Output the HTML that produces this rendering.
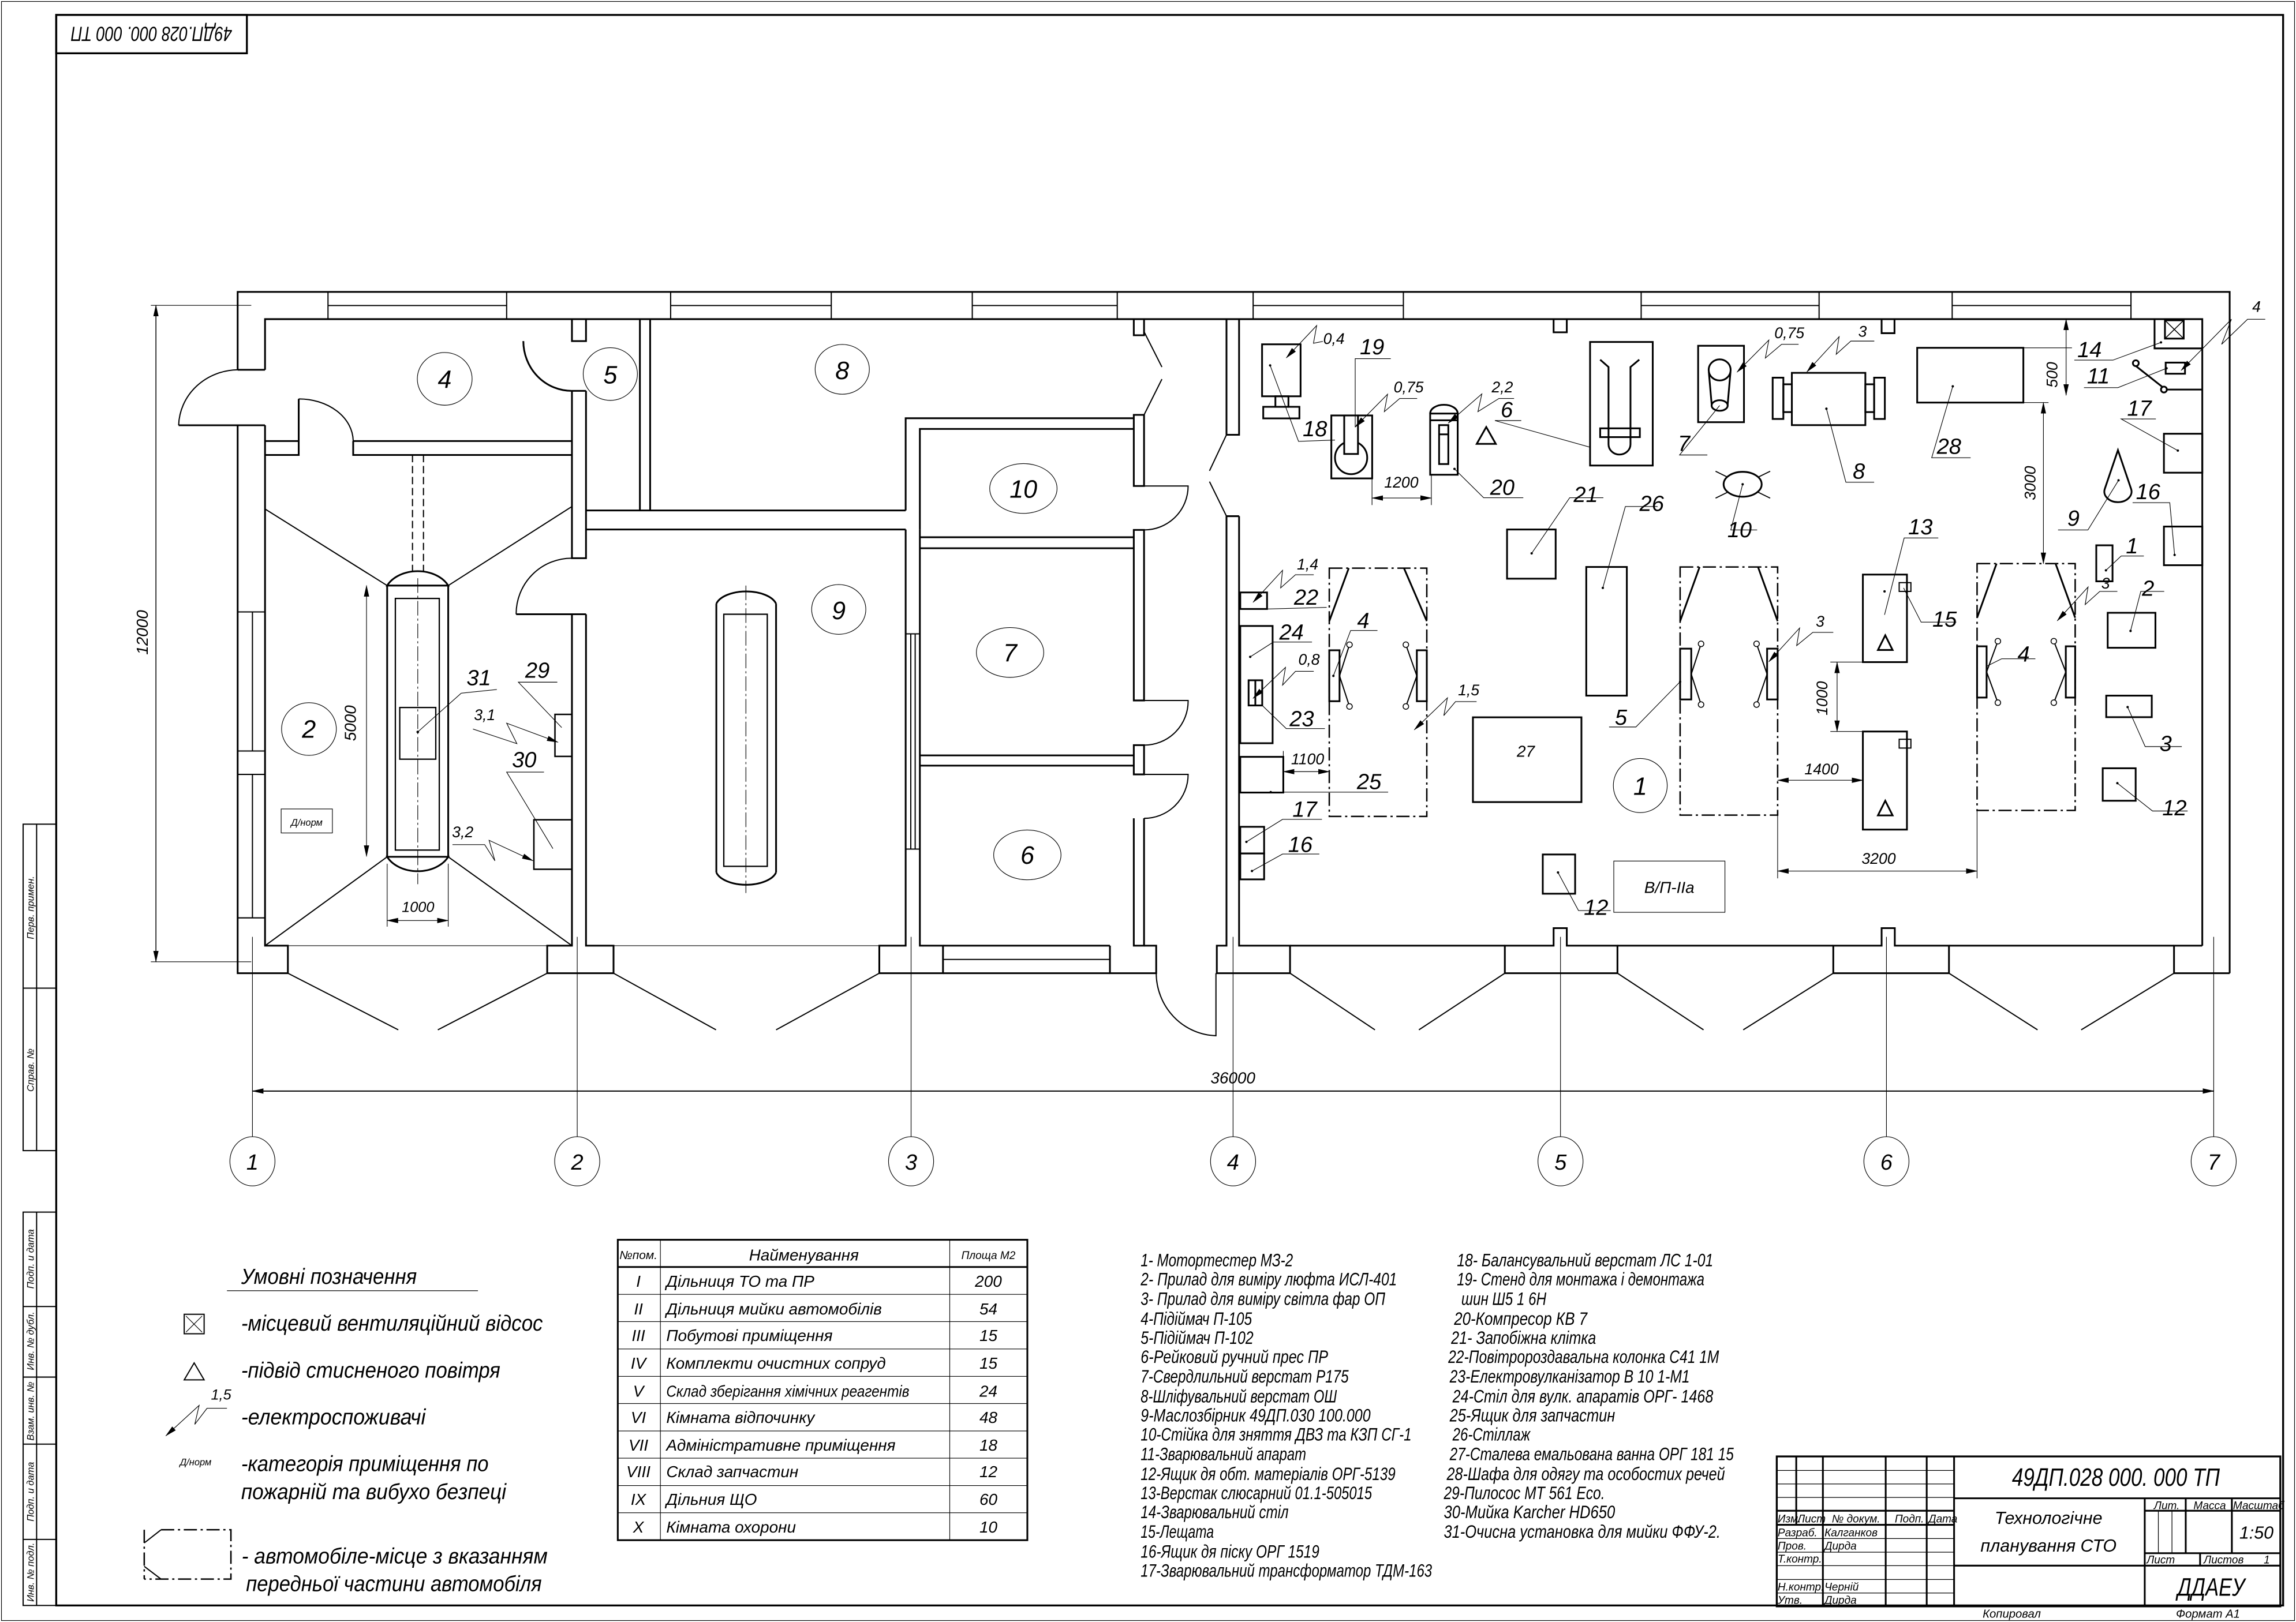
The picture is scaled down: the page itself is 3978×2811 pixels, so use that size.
<!DOCTYPE html>
<html><head><meta charset="utf-8">
<style>
html,body{margin:0;padding:0;background:#fff;}
svg{display:block;}
text{font-family:"Liberation Sans","DejaVu Sans",sans-serif;font-style:italic;fill:#000;}
.w{fill:none;stroke:#000;stroke-width:1.2;}
.t{fill:none;stroke:#000;stroke-width:0.45;}
.m{fill:none;stroke:#000;stroke-width:0.8;}
.f{fill:#fff;stroke:#000;stroke-width:1;}
.dd{fill:none;stroke:#000;stroke-width:1;stroke-dasharray:9 2.5 1.5 2.5;}
.c{fill:none;stroke:#000;stroke-width:0.45;stroke-dasharray:10 2 1.5 2;}
.n{font-size:15px;}
.s{font-size:10.5px;}
.l{font-size:12.5px;}
</style></head><body>
<svg width="3978" height="2811" viewBox="0 0 1568 1108" preserveAspectRatio="none" xmlns="http://www.w3.org/2000/svg">
<defs>
<marker id="a" markerWidth="8" markerHeight="6" refX="7.5" refY="3" orient="auto-start-reverse" markerUnits="userSpaceOnUse"><path d="M0,1.2 L8,3 L0,4.8 z" fill="#000"/></marker>
</defs>
<rect x="0" y="0" width="1568" height="1108" fill="#fff"/>
<rect x="1" y="1" width="1566" height="1106" class="t"/>
<!-- main frame -->
<rect x="38.4" y="10.2" width="1520.8" height="1086.5" fill="none" stroke="#000" stroke-width="1.3"/>
<rect x="38.4" y="10.2" width="130.2" height="26.2" fill="none" stroke="#000" stroke-width="1.3"/>
<text x="103.5" y="23.3" font-size="14" text-anchor="middle" transform="rotate(180 103.5 23.3)" dy="5" textLength="110" lengthAdjust="spacingAndGlyphs">49ДП.028 000. 000 ТП</text>
<!-- left strip -->
<g class="m">
<rect x="15.8" y="563" width="22.6" height="223"/>
<line x1="25" y1="563" x2="25" y2="786"/><line x1="15.8" y1="675" x2="38.4" y2="675"/>
<rect x="15.8" y="828" width="22.6" height="268.7"/>
<line x1="25" y1="828" x2="25" y2="1096.7"/>
<line x1="15.8" y1="892.5" x2="38.4" y2="892.5"/><line x1="15.8" y1="940.7" x2="38.4" y2="940.7"/>
<line x1="15.8" y1="986.5" x2="38.4" y2="986.5"/><line x1="15.8" y1="1051.6" x2="38.4" y2="1051.6"/>
</g>
<g font-size="6.5">
<text transform="translate(23 620) rotate(-90)" text-anchor="middle">Перв. примен.</text>
<text transform="translate(23 731) rotate(-90)" text-anchor="middle">Справ. №</text>
<text transform="translate(23 860) rotate(-90)" text-anchor="middle">Подп. и дата</text>
<text transform="translate(23 916) rotate(-90)" text-anchor="middle">Инв. № дубл.</text>
<text transform="translate(23 964) rotate(-90)" text-anchor="middle">Взам. инв. №</text>
<text transform="translate(23 1019) rotate(-90)" text-anchor="middle">Подп. и дата</text>
<text transform="translate(23 1074) rotate(-90)" text-anchor="middle">Инв. № подл.</text>
</g>

<!-- ===== BUILDING WALLS ===== -->
<g class="w">
<!-- top wall -->
<path d="M162.3,252.6 L162.3,199.4 L1522.7,199.4 L1522.7,664.8"/>
<path d="M181,252.6 L181,218 L1504,218 L1504,646"/>
<line x1="162.3" y1="252.6" x2="181" y2="252.6"/>
<!-- windows top -->
<g class="m">
<line x1="224" y1="199.4" x2="224" y2="218"/><line x1="346" y1="199.4" x2="346" y2="218"/><line x1="224" y1="208.7" x2="346" y2="208.7"/>
<line x1="458" y1="199.4" x2="458" y2="218"/><line x1="567.7" y1="199.4" x2="567.7" y2="218"/><line x1="458" y1="208.7" x2="567.7" y2="208.7"/>
<line x1="664" y1="199.4" x2="664" y2="218"/><line x1="763" y1="199.4" x2="763" y2="218"/><line x1="664" y1="208.7" x2="763" y2="208.7"/>
<line x1="855.8" y1="199.4" x2="855.8" y2="218"/><line x1="958.4" y1="199.4" x2="958.4" y2="218"/><line x1="855.8" y1="208.7" x2="958.4" y2="208.7"/>
<line x1="1120.8" y1="199.4" x2="1120.8" y2="218"/><line x1="1242.3" y1="199.4" x2="1242.3" y2="218"/><line x1="1120.8" y1="208.7" x2="1242.3" y2="208.7"/>
<line x1="1333.2" y1="199.4" x2="1333.2" y2="218"/><line x1="1455.3" y1="199.4" x2="1455.3" y2="218"/><line x1="1333.2" y1="208.7" x2="1455.3" y2="208.7"/>
</g>
<!-- pilaster notches -->
<path d="M1061,218 L1061,227 L1070,227 L1070,218"/>
<path d="M1285,218 L1285,227.6 L1293.8,227.6 L1293.8,218"/>
<!-- left wall lower -->
<path d="M122,290.5 L181,290.5 M162.3,290.5 L162.3,664.8 L196.6,664.8 L196.6,646 L181,646 L181,290.5"/>
<path d="M122,290.5 A41,39 0 0 1 162.3,252.6" class="m"/>
<g class="m">
<line x1="172.4" y1="418" x2="172.4" y2="513"/><line x1="162.3" y1="418" x2="181" y2="418"/><line x1="162.3" y1="513" x2="181" y2="513"/>
<line x1="172.4" y1="529" x2="172.4" y2="627"/><line x1="162.3" y1="529" x2="181" y2="529"/><line x1="162.3" y1="627" x2="181" y2="627"/>
</g>
<!-- wall 4/2 -->
<path d="M181,301.3 L204,301.3 L204,272.5 M181,310.8 L204,310.8 L204,301.3"/>
<path d="M241.2,301.3 L390.6,301.3 M241.2,301.3 L241.2,310.8 L390.6,310.8"/>
<path d="M204,272.5 A37,29 0 0 1 241.2,301.3" class="m"/>
<!-- wall axis 2 -->
<path d="M390.6,218 L390.6,233 L400.2,233 L400.2,218"/>
<path d="M357.4,233 A33,34 0 0 0 390.6,267"/>
<path d="M390.6,267 L400.2,267 M390.6,267 L390.6,381.3 L400.2,381.3 L400.2,267"/>
<path d="M352.5,419.6 L400.2,419.6 M390.6,419.6 L390.6,646 L373.7,646 L373.7,664.8 L419,664.8 L419,646 L400.2,646 L400.2,419.6"/>
<path d="M352.5,419.6 A38,38 0 0 1 390.6,381.3" class="m"/>
<!-- wall 5/8 -->
<path d="M437,218 L437,348.7 M444,218 L444,348.7"/>
<path d="M400.2,348.7 L618.5,348.7 M400.2,361.7 L618.5,361.7"/>
<!-- block 10/7/6 -->
<path d="M618.5,348.7 L618.5,285.7 L774.3,285.7 M628.2,361.7 L628.2,293 L774.3,293"/>
<path d="M618.5,361.7 L618.5,646 L600.5,646 L600.5,664.8 L644,664.8 L644,646 L628.2,646 L628.2,361.7"/>
<g class="m"><line x1="622" y1="433" x2="622" y2="580"/><line x1="625" y1="433" x2="625" y2="580"/><line x1="618.5" y1="433" x2="628.2" y2="433"/><line x1="618.5" y1="580" x2="628.2" y2="580"/></g>
<path d="M628.2,367 L774.3,367 M628.2,374.5 L774.3,374.5 M628.2,516 L774.3,516 M628.2,523 L774.3,523"/>
<path d="M774.3,283.4 L774.3,332 L781.3,332 L781.3,283.4 Z"/>
<path d="M774.3,362 L774.3,478.5 L781.3,478.5 L781.3,362 Z"/>
<path d="M774.3,509 L774.3,529 L781.3,529 L781.3,509 Z"/>
<path d="M774.3,559 L774.3,646 L781.3,646 L781.3,559"/>
<path d="M781.3,332 L811.4,332 A30,30 0 0 1 781.3,362" class="m"/>
<path d="M781.3,478.5 L811.4,478.5 A30,30 0 0 1 781.3,509" class="m"/>
<path d="M781.3,529 L811.4,529 A30,30 0 0 1 781.3,559" class="m"/>
<path d="M774.3,218 L774.3,229 L781.3,229 L781.3,218"/>
<path d="M781.3,226.6 L793.5,250.7 M793.5,259 L781.3,283.4" class="m"/>
<!-- bottom window + piers -->
<path d="M644,646 L758,646 M644,664.8 L758,664.8" />
<line x1="644" y1="655.4" x2="758" y2="655.4" class="m"/>
<path d="M758,646 L758,664.8 L789.6,664.8 L789.6,646 L781.3,646"/>
<path d="M789.6,664.8 A42,43 0 0 0 830.4,707.5 L830.4,664.8" class="m"/>
<!-- corridor wall -->
<path d="M837.6,218 L837.6,297 M846.2,218 L846.2,297 L837.6,297"/>
<path d="M837.6,297 L826,321.6 M826,329 L837.6,352.6" class="m"/>
<path d="M837.6,352.6 L846.2,352.6 M837.6,352.6 L837.6,646 L831,646 L831,664.8 L881,664.8 L881,646 L846.2,646 L846.2,352.6"/>
<!-- piers right -->
<path d="M1027.7,646 L1061,646 L1061,634 L1070,634 L1070,646 L1104.6,646 L1104.6,664.8 L1027.7,664.8 Z"/>
<path d="M1252,646 L1285,646 L1285,634 L1294,634 L1294,646 L1331,646 L1331,664.8 L1252,664.8 Z"/>
<path d="M1504,646 L1484.7,646 L1484.7,664.8 L1522.7,664.8"/>
<line x1="881" y1="646" x2="1027.7" y2="646"/><line x1="1104.6" y1="646" x2="1252" y2="646"/><line x1="1331" y1="646" x2="1484.7" y2="646"/>
<line x1="419" y1="646" x2="600.5" y2="646" class="t"/>
<line x1="196.6" y1="646" x2="373.7" y2="646" class="t"/>
</g>
<!-- gates -->
<g class="m">
<line x1="196.6" y1="664.8" x2="272" y2="703.5"/><line x1="373.7" y1="664.8" x2="299" y2="703.5"/>
<line x1="419" y1="664.8" x2="489" y2="703.5"/><line x1="600.5" y1="664.8" x2="530" y2="703.5"/>
<line x1="881" y1="664.8" x2="939" y2="703.5"/><line x1="1027.7" y1="664.8" x2="969" y2="703.5"/>
<line x1="1104.6" y1="664.8" x2="1163.4" y2="703.5"/><line x1="1252" y1="664.8" x2="1190.5" y2="703.5"/>
<line x1="1331" y1="664.8" x2="1391.5" y2="703.5"/><line x1="1484.7" y1="664.8" x2="1421.3" y2="703.5"/>
</g>
<!-- axes -->
<g class="t">
<line x1="172.4" y1="640" x2="172.4" y2="776.5"/><line x1="394.2" y1="640" x2="394.2" y2="776.5"/>
<line x1="622.2" y1="640" x2="622.2" y2="776.5"/><line x1="842.1" y1="640" x2="842.1" y2="776.5"/>
<line x1="1065.7" y1="640" x2="1065.7" y2="776.5"/><line x1="1288.3" y1="640" x2="1288.3" y2="776.5"/>
<line x1="1511.8" y1="640" x2="1511.8" y2="776.5"/>
<ellipse cx="172.4" cy="793.3" rx="15.4" ry="16.8"/><ellipse cx="394.2" cy="793.3" rx="15.4" ry="16.8"/>
<ellipse cx="622.2" cy="793.3" rx="15.4" ry="16.8"/><ellipse cx="842.1" cy="793.3" rx="15.4" ry="16.8"/>
<ellipse cx="1065.7" cy="793.3" rx="15.4" ry="16.8"/><ellipse cx="1288.3" cy="793.3" rx="15.4" ry="16.8"/>
<ellipse cx="1511.8" cy="793.3" rx="15.4" ry="16.8"/>
<line x1="172.4" y1="745.3" x2="1511.8" y2="745.3" marker-start="url(#a)" marker-end="url(#a)" stroke-width="0.8"/>
<line x1="106.5" y1="208.6" x2="106.5" y2="657" marker-start="url(#a)" marker-end="url(#a)" stroke-width="0.6"/>
<line x1="103" y1="208.6" x2="171.6" y2="208.6"/><line x1="103" y1="657" x2="171.6" y2="657"/>
</g>
<g class="n" text-anchor="middle">
<text x="172.4" y="799">1</text><text x="394.2" y="799">2</text><text x="622.2" y="799">3</text><text x="842.1" y="799">4</text><text x="1065.7" y="799">5</text><text x="1288.3" y="799">6</text><text x="1511.8" y="799">7</text>
</g>
<text x="842" y="740" font-size="11" text-anchor="middle">36000</text>
<text transform="translate(101 432) rotate(-90)" font-size="11" text-anchor="middle">12000</text>

<!-- room circles -->
<g class="t">
<ellipse cx="303.7" cy="258.8" rx="18.7" ry="18"/><ellipse cx="416.8" cy="255.5" rx="18.5" ry="18"/>
<ellipse cx="575.2" cy="252.3" rx="18.5" ry="17"/><ellipse cx="572.8" cy="416.3" rx="18.5" ry="17"/>
<ellipse cx="211" cy="498" rx="18.7" ry="18"/><ellipse cx="698.9" cy="333.7" rx="23" ry="17"/>
<ellipse cx="689.8" cy="445.7" rx="23" ry="17"/><ellipse cx="701.6" cy="584" rx="23" ry="17"/>
<ellipse cx="1120.2" cy="536.6" rx="18.4" ry="18.5"/>
</g>
<g font-size="17" text-anchor="middle">
<text x="303.7" y="265">4</text><text x="416.8" y="262">5</text><text x="575.2" y="259">8</text><text x="572.8" y="423">9</text>
<text x="211" y="504">2</text><text x="698.9" y="340">10</text><text x="689.8" y="452">7</text><text x="701.6" y="590">6</text>
<text x="1120.2" y="543">1</text>
</g>

<!-- room 2 car wash -->
<g class="w">
<path d="M264.4,400 L264.4,585.3 M306.1,400 L306.1,585.3"/>
<path d="M264.4,400 A23,17 0 0 1 306.1,400 Z"/>
<path d="M264.4,585.3 A23,17 0 0 0 306.1,585.3 Z"/>
<rect x="270" y="408.8" width="30" height="171.9" stroke-width="0.9"/>
<rect x="273" y="483.3" width="24.6" height="35.3" stroke-width="0.9"/>
</g>
<line x1="285.3" y1="395" x2="285.3" y2="604" class="c"/>
<g class="m" stroke-dasharray="5 2.5"><line x1="281.7" y1="310.8" x2="281.7" y2="391.8"/><line x1="289.2" y1="310.8" x2="289.2" y2="391.8"/></g>
<g class="m">
<line x1="181" y1="347.7" x2="264.4" y2="400"/><line x1="390.6" y1="346" x2="306.1" y2="400"/>
<line x1="264.4" y1="585.3" x2="181" y2="646"/><line x1="306.1" y1="585.3" x2="390.6" y2="646"/>
</g>
<g class="t">
<line x1="250.3" y1="400" x2="250.3" y2="585" marker-start="url(#a)" marker-end="url(#a)"/>
<line x1="264.4" y1="628.8" x2="306.1" y2="628.8" marker-start="url(#a)" marker-end="url(#a)"/>
<line x1="264.4" y1="590" x2="264.4" y2="633"/><line x1="306.1" y1="590" x2="306.1" y2="633"/>
<line x1="285.3" y1="500" x2="315" y2="473.5"/><line x1="315" y1="473.5" x2="339.3" y2="471"/>
<rect x="192" y="552.6" width="35" height="16.4"/>
</g>
<circle cx="285.3" cy="500" r="0.9"/>
<text transform="translate(243 494) rotate(-90)" font-size="11" text-anchor="middle">5000</text>
<text x="285.5" y="623" font-size="10" text-anchor="middle">1000</text>
<text x="209.5" y="564" font-size="6.5" text-anchor="middle">Д/норм</text>
<text x="327" y="468" class="n" text-anchor="middle">31</text>
<!-- 29,30 -->
<g class="w"><rect x="379" y="488" width="11.6" height="28.7" stroke-width="1"/><rect x="364.6" y="560" width="26" height="33.8" stroke-width="1"/></g>
<g class="t">
<polyline points="383.6,497 354,466 380.6,466"/>
<polyline points="377.6,579.7 346,527.4 371.5,527.4"/>
<polyline points="323,498 353,508 346,494 381,507" marker-end="url(#a)"/>
<polyline points="309,577 331,577 338,588 334,574 364,588" marker-end="url(#a)"/>
</g>
<text x="367" y="463" class="n" text-anchor="middle">29</text>
<text x="358" y="524" class="n" text-anchor="middle">30</text>
<text x="331" y="492" class="s" text-anchor="middle">3,1</text>
<text x="316" y="572" class="s" text-anchor="middle">3,2</text>

<!-- room 9 car wash -->
<g class="w">
<path d="M489.2,412.4 L489.2,596 M530,412.4 L530,596"/>
<path d="M489.2,412.4 A21,11 0 0 1 530,412.4"/>
<path d="M489.2,596 A21,11 0 0 0 530,596"/>
<rect x="494.3" y="419.6" width="29.7" height="172.2" stroke-width="0.9"/>
</g>
<line x1="509.4" y1="400" x2="509.4" y2="610" class="c"/>

<!-- ===== MAIN SHOP EQUIPMENT ===== -->
<g class="w" stroke-width="1">
<!-- 18 -->
<rect x="861.9" y="235.2" width="26.3" height="35.5"/><rect x="871" y="270.7" width="8.9" height="7.2"/><rect x="862.7" y="277.9" width="24.7" height="7.9"/>
<!-- 19 -->
<rect x="909.2" y="283.8" width="27.9" height="43"/><ellipse cx="922.7" cy="312.7" rx="11" ry="11.2"/><rect x="918" y="283.8" width="9.4" height="26.3" fill="#fff"/>
<!-- 20 -->
<path d="M976.7,282.5 A9.4,6 0 0 1 995.5,282.5"/><rect x="976.7" y="282.5" width="18.8" height="41.8"/><line x1="976.7" y1="287.1" x2="995.5" y2="287.1"/>
<rect x="982.8" y="290.4" width="6.3" height="26.6"/><line x1="982.8" y1="296.7" x2="989.1" y2="296.7"/>
<path d="M1008.5,303.2 L1015,291.7 L1021.5,303.2 Z"/>
<!-- 6 -->
<rect x="1085.9" y="233.6" width="42.8" height="84.4"/>
<path d="M1092.8,245.7 L1098.5,250.7 L1098.5,303.5 A7.5,7 0 0 0 1113.5,303.5 L1113.5,250.7 L1119.5,245.7"/>
<rect x="1092.8" y="292.6" width="27.1" height="6"/>
<!-- 7 -->
<rect x="1159.7" y="236.2" width="31.3" height="52.2"/><ellipse cx="1174.4" cy="252.7" rx="7.5" ry="7.2"/><ellipse cx="1174.4" cy="277" rx="5.5" ry="3.6"/>
<line x1="1167" y1="254" x2="1169" y2="277"/><line x1="1181.8" y1="254" x2="1179.8" y2="277"/>
<!-- 8 -->
<rect x="1223.7" y="254.7" width="50.2" height="35.7"/><rect x="1279.9" y="258" width="7.3" height="28.2"/><rect x="1273.9" y="262.5" width="6" height="19"/>
<rect x="1210.6" y="258" width="7.3" height="28.2"/><rect x="1217.9" y="262.5" width="5.8" height="19"/>
<!-- 28 -->
<rect x="1309.3" y="237.6" width="72.5" height="37.4"/>
<!-- 11/14 -->
<rect x="1478.5" y="218.8" width="12.8" height="12.5"/><line x1="1478.5" y1="218.8" x2="1491.3" y2="231.3" stroke-width="0.6"/><line x1="1491.3" y1="218.8" x2="1478.5" y2="231.3" stroke-width="0.6"/>
<path d="M1471.4,218 L1471.4,238 L1504,238"/>
<rect x="1479" y="247.7" width="13.2" height="7.6"/>
<line x1="1477.8" y1="266.1" x2="1504" y2="266.1"/>
<line x1="1458.6" y1="250" x2="1477" y2="264.5"/>
<circle cx="1458.6" cy="248.1" r="2" fill="#fff"/><circle cx="1477.8" cy="266.1" r="2" fill="#fff"/>
<!-- 17,16 right -->
<rect x="1477.8" y="296.3" width="26.2" height="26.6"/><rect x="1477.8" y="359.7" width="26.2" height="26.4"/>
<!-- 9 -->
<path d="M1446.4,307.5 L1437.4,334 A9.3,7.2 0 1 0 1455.4,334 Z"/>
<!-- 10 -->
<line x1="1171.6" y1="321.9" x2="1208.9" y2="340.3" stroke-width="0.7"/><line x1="1208.9" y1="321.9" x2="1171.6" y2="340.3" stroke-width="0.7"/>
<ellipse cx="1190.1" cy="330.8" rx="13" ry="8.5" fill="#fff"/>
<!-- 21, 26, 27 -->
<rect x="1029.2" y="361.7" width="33.2" height="33.6"/><rect x="1083.3" y="387.3" width="27.7" height="87.9"/><rect x="1005.9" y="490" width="74.1" height="57.9"/>
<!-- left side 22,24,23,25,17,16 -->
<rect x="847" y="404.7" width="18.3" height="11.3"/><rect x="847" y="427.6" width="22.1" height="80.1"/>
<rect x="852.7" y="464.7" width="9.3" height="17.2"/><line x1="857.3" y1="464.7" x2="857.3" y2="481.9"/>
<rect x="847" y="517" width="29.4" height="24.4"/><rect x="847" y="564.8" width="16.3" height="18.2"/><rect x="847" y="583" width="16.3" height="17.7"/>
<!-- 13 -->
<rect x="1272.2" y="392.5" width="30.1" height="59.8"/><rect x="1272.2" y="499.7" width="30.1" height="67"/>
<path d="M1282.5,444 L1287.5,434 L1292.5,444 Z"/><path d="M1282.5,557 L1287.5,547 L1292.5,557 Z"/>
<rect x="1297" y="398" width="8" height="6" stroke-width="0.8"/><rect x="1297" y="505" width="8" height="6" stroke-width="0.8"/>
<!-- right side 1,2,3,12 -->
<rect x="1431.6" y="372.5" width="11.1" height="24.6"/><rect x="1439.4" y="418.6" width="32.6" height="23.9"/><rect x="1438.4" y="475.2" width="31.1" height="14.7"/><rect x="1436" y="524.8" width="22.5" height="22.2"/>
<rect x="1053.6" y="583.7" width="22.1" height="26.8"/>
</g>
<rect x="1102.1" y="588.2" width="75.9" height="35" class="t"/>
<text x="1140" y="610" font-size="11" text-anchor="middle">В/П-IIа</text>
<text x="1042" y="517" font-size="11" text-anchor="middle">27</text>

<!-- lifts -->
<g class="dd">
<rect x="907.8" y="388.1" width="66.6" height="169.6"/>
<rect x="1147.4" y="387.3" width="66.6" height="169.5"/>
<rect x="1350.2" y="385" width="67" height="168.6"/>
</g>
<g class="w" stroke-width="1">
<line x1="921.1" y1="388.1" x2="907.8" y2="424.3"/><line x1="958.8" y1="388.1" x2="974.4" y2="424.3"/>
<line x1="1160.7" y1="387.3" x2="1147.4" y2="424.3"/><line x1="1200.6" y1="387.3" x2="1214" y2="424.3"/>
<line x1="1363.5" y1="385" x2="1350.2" y2="422"/><line x1="1403.8" y1="385" x2="1417.2" y2="422"/>
<rect x="907.8" y="444.2" width="7" height="34.8"/><rect x="967.6" y="444.2" width="6.8" height="34.8"/>
<rect x="1147.4" y="443.1" width="7.6" height="34.7"/><rect x="1206.8" y="443.1" width="7.2" height="34.7"/>
<rect x="1350.2" y="441.5" width="6.5" height="35"/><rect x="1410.8" y="441.5" width="6.4" height="35"/>
<polyline points="921.6,440.4 914.8,461.7 921.6,482.6" stroke-width="0.8"/><polyline points="960.1,440.4 967.6,461.7 960.1,482.6" stroke-width="0.8"/>
<polyline points="1161.7,439.8 1155,460.5 1161.7,481.3" stroke-width="0.8"/><polyline points="1199.6,439.8 1206.8,460.5 1199.6,481.3" stroke-width="0.8"/>
<polyline points="1364.4,438 1356.7,459 1364.4,480" stroke-width="0.8"/><polyline points="1402.6,438 1410.8,459 1402.6,480" stroke-width="0.8"/>
</g>
<g fill="#fff" stroke="#000" stroke-width="0.6">
<circle cx="921.6" cy="440.4" r="1.9"/><circle cx="921.6" cy="482.6" r="1.9"/><circle cx="960.1" cy="440.4" r="1.9"/><circle cx="960.1" cy="482.6" r="1.9"/>
<circle cx="1161.7" cy="439.8" r="1.9"/><circle cx="1161.7" cy="481.3" r="1.9"/><circle cx="1199.6" cy="439.8" r="1.9"/><circle cx="1199.6" cy="481.3" r="1.9"/>
<circle cx="1364.4" cy="438" r="1.9"/><circle cx="1364.4" cy="480" r="1.9"/><circle cx="1402.6" cy="438" r="1.9"/><circle cx="1402.6" cy="480" r="1.9"/>
</g>

<!-- leaders -->
<g class="t">
<polyline points="867.4,249.6 886.8,301.5 911.7,300.6"/>
<polyline points="925.5,291.7 925.5,245 949.8,245"/>
<polyline points="993.3,320.3 1013.2,340 1040.3,340"/>
<polyline points="1085.9,305.5 1020.9,287.3 1038.9,287.3"/>
<polyline points="1174.4,277 1147,310.8 1166,310.8"/>
<polyline points="1247.3,279.2 1260.6,329.4 1279.9,329.4"/>
<polyline points="1333.6,263.9 1319.2,312.7 1345.8,312.7"/>
<polyline points="1475.8,233.9 1443,246 1416.6,246"/>
<polyline points="1479.6,251.6 1446.4,264.8 1423.2,264.8"/>
<polyline points="1487.3,307.8 1448.6,286.2 1472.3,286.2"/>
<polyline points="1485.1,379.1 1481.8,343.4 1456.4,343.4"/>
<polyline points="1446.8,328.1 1425.9,362 1405.5,362"/>
<polyline points="1190.1,330.8 1182,362 1200,362"/>
<polyline points="1438.2,389.6 1448.6,379.8 1464.1,379.8"/>
<polyline points="1287,420 1300.4,367.5 1323.7,367.5"/>
<polyline points="1046,378 1072,340 1095,340"/>
<polyline points="1094.6,401.6 1110,346 1132,346"/>
<polyline points="1300,401.6 1312,425 1336,425"/>
<polyline points="1455,431 1462,404 1478,404"/>
<polyline points="1453,483 1465,510 1490,510"/>
<polyline points="1446,535 1470,554 1494,554"/>
<polyline points="1064,596 1078,622 1100,622"/>
<polyline points="865.3,416 906,414.9"/>
<polyline points="853.8,448.7 869.6,438.6 896,438.6"/>
<polyline points="862,481.9 878.4,497.7 904.8,497.7"/>
<polyline points="867.8,541.1 948,541.1"/>
<polyline points="851.2,575.1 875.9,559.7 902.8,559.7"/>
<polyline points="855,595 875.9,583.4 901,583.4"/>
<polyline points="910.6,461.7 922.4,430.7 940.7,430.7"/>
<polyline points="1147.4,465.7 1117.2,496.6 1098.9,496.6"/>
<polyline points="1357,455 1367,450 1390,450"/>
<!-- dims -->
<line x1="937" y1="340.2" x2="977.5" y2="340.2" marker-start="url(#a)" marker-end="url(#a)"/>
<line x1="937" y1="326.8" x2="937" y2="345"/><line x1="977.5" y1="324.3" x2="977.5" y2="345"/>
<line x1="1411" y1="218" x2="1411" y2="270" marker-start="url(#a)" marker-end="url(#a)"/>
<line x1="1381.8" y1="237.6" x2="1415" y2="237.6"/><line x1="1381.8" y1="275" x2="1399" y2="275"/>
<line x1="1395.5" y1="275" x2="1395.5" y2="385" marker-start="url(#a)" marker-end="url(#a)"/>
<line x1="1254.6" y1="452.3" x2="1254.6" y2="499.7" marker-start="url(#a)" marker-end="url(#a)"/>
<line x1="1250" y1="452.3" x2="1272.2" y2="452.3"/><line x1="1250" y1="499.7" x2="1272.2" y2="499.7"/>
<line x1="1214" y1="533" x2="1272.2" y2="533" marker-start="url(#a)" marker-end="url(#a)"/>
<line x1="1214" y1="595" x2="1350.2" y2="595" marker-start="url(#a)" marker-end="url(#a)"/>
<line x1="1214" y1="556.8" x2="1214" y2="600"/><line x1="1350.2" y1="553.6" x2="1350.2" y2="600"/>
<line x1="876.4" y1="527.1" x2="907.8" y2="527.1" marker-start="url(#a)" marker-end="url(#a)"/>
<line x1="876.4" y1="513" x2="876.4" y2="517"/>
</g>
<!-- electric symbols -->
<g class="t" stroke-width="0.55">
<polyline points="903.4,233.2 897,234.5 899.2,222.4 878.5,244.4" marker-end="url(#a)"/>
<polyline points="967.8,272.2 955.9,272.2 945.4,281.2 947.6,269.3 925.5,291.7" marker-end="url(#a)"/>
<polyline points="1034,272.2 1023.7,272.2 1009.3,281.2 1012,269.1 989.1,289" marker-end="url(#a)"/>
<polyline points="1228.3,235.2 1216.7,235.2 1205.6,244.6 1208,232.3 1186.3,254.2" marker-end="url(#a)"/>
<polyline points="1280,233 1264,233 1254,242 1256,230 1234,254" marker-end="url(#a)"/>
<polyline points="1547,218.1 1534.9,218.1 1517.2,235.2 1523.9,218.1 1489.6,253" marker-end="url(#a)"/>
<polyline points="897.2,392.6 884.7,392.6 874.6,401.6 875.9,389.6 855.8,411.4" marker-end="url(#a)"/>
<polyline points="897.2,458.6 884.7,458.6 875.9,468 877.9,455.9 855.8,477" marker-end="url(#a)"/>
<polyline points="1008.4,479.3 994,479.3 986,488.8 988.5,476.7 965.9,498.5" marker-end="url(#a)"/>
<polyline points="1252,432 1238,432 1227,441 1229,429 1208,452" marker-end="url(#a)"/>
<polyline points="1446,404 1434,404 1424,413 1426,401 1405,424" marker-end="url(#a)"/>
</g>
<!-- dots -->
<g fill="#000">
<circle cx="867.4" cy="249.6" r="0.8"/><circle cx="993.3" cy="320.3" r="0.8"/><circle cx="1247.3" cy="279.2" r="0.8"/><circle cx="1333.6" cy="263.9" r="0.8"/>
<circle cx="1487.3" cy="307.8" r="0.8"/><circle cx="1485.1" cy="379.1" r="0.8"/><circle cx="1446.8" cy="328.1" r="0.8"/><circle cx="1190.1" cy="330.8" r="0.8"/>
<circle cx="1438.2" cy="389.6" r="0.8"/><circle cx="1046" cy="378" r="0.8"/><circle cx="1094.6" cy="401.6" r="0.8"/><circle cx="1287" cy="404" r="0.8"/>
<circle cx="1455" cy="431" r="0.8"/><circle cx="1453" cy="483" r="0.8"/><circle cx="1446" cy="535" r="0.8"/><circle cx="1064" cy="596" r="0.8"/>
<circle cx="853.8" cy="448.7" r="0.8"/><circle cx="867.8" cy="541.1" r="0.8"/><circle cx="851.2" cy="575.1" r="0.8"/><circle cx="855" cy="595" r="0.8"/>
<circle cx="910.6" cy="461.7" r="0.8"/><circle cx="1147.4" cy="465.7" r="0.8"/><circle cx="1475.8" cy="233.9" r="0.8"/><circle cx="1479.6" cy="251.6" r="0.8"/>
</g>
<!-- numbers in shop -->
<g class="n" text-anchor="middle">
<text x="898" y="298">18</text><text x="937" y="242">19</text><text x="1026" y="338">20</text><text x="1029" y="285">6</text>
<text x="1150" y="308">7</text><text x="1269.5" y="327">8</text><text x="1331" y="310">28</text>
<text x="1427" y="244">14</text><text x="1433" y="262">11</text><text x="1461" y="284">17</text><text x="1467" y="341">16</text>
<text x="1416" y="359">9</text><text x="1188" y="367">10</text><text x="1083" y="343">21</text><text x="1128" y="349">26</text>
<text x="1311.5" y="365">13</text><text x="1328" y="428">15</text><text x="1456" y="378">1</text><text x="1467" y="407">2</text>
<text x="1479" y="513">3</text><text x="1485" y="557">12</text><text x="1090" y="625">12</text>
<text x="892" y="413">22</text><text x="882" y="437">24</text><text x="889" y="496">23</text><text x="935" y="539">25</text>
<text x="891" y="558">17</text><text x="888" y="582">16</text><text x="931" y="429">4</text><text x="1107" y="495">5</text><text x="1382" y="452">4</text>
</g>
<g class="s" text-anchor="middle">
<text x="911" y="235">0,4</text><text x="962" y="268">0,75</text><text x="1026" y="268">2,2</text><text x="1222" y="231">0,75</text>
<text x="1272" y="230">3</text><text x="1541" y="213">4</text><text x="893" y="389">1,4</text><text x="894" y="454">0,8</text>
<text x="1003" y="475">1,5</text><text x="1243" y="428">3</text><text x="1438" y="402">3</text>
<text x="957" y="333">1200</text><text x="893" y="522">1100</text><text x="1244" y="529">1400</text><text x="1283" y="590">3200</text>
</g>
<g class="s" text-anchor="middle">
<text transform="translate(1405 256) rotate(-90)">500</text>
<text transform="translate(1390 330) rotate(-90)">3000</text>
<text transform="translate(1248 477) rotate(-90)">1000</text>
</g>

<!-- ===== LEGEND ===== -->
<text x="164.7" y="877" font-size="15" textLength="120" lengthAdjust="spacingAndGlyphs">Умовні позначення</text>
<line x1="155" y1="881.7" x2="326.4" y2="881.7" class="t"/>
<rect x="125.8" y="897.8" width="13.6" height="13.3" class="m"/>
<path d="M127,899 L138,910 M138,899 L127,910" class="t"/>
<path d="M125.8,942.6 L132.6,931 L139.4,942.6 Z" class="m"/>
<polyline points="155,962 141.4,962 133,973 136,960 113.3,980.8" class="t" marker-end="url(#a)"/>
<text x="151" y="956" font-size="10" text-anchor="middle">1,5</text>
<text x="133.6" y="1001" font-size="6.5" text-anchor="middle">Д/норм</text>
<g font-size="15">
<text x="164.7" y="909" textLength="206" lengthAdjust="spacingAndGlyphs">-місцевий вентиляційний відсос</text>
<text x="164.7" y="941" textLength="177" lengthAdjust="spacingAndGlyphs">-підвід стисненого повітря</text>
<text x="164.7" y="973" textLength="126" lengthAdjust="spacingAndGlyphs">-електроспоживачі</text>
<text x="164.7" y="1005" textLength="169" lengthAdjust="spacingAndGlyphs">-категорія приміщення по</text>
<text x="164.7" y="1024" textLength="181" lengthAdjust="spacingAndGlyphs">пожарній та вибухо безпеці</text>
<text x="165" y="1068" textLength="209" lengthAdjust="spacingAndGlyphs">- автомобіле-місце з вказанням</text>
<text x="168" y="1087" textLength="202" lengthAdjust="spacingAndGlyphs">передньої частини автомобіля</text>
</g>
<path d="M110,1045 L157.7,1045 L157.7,1078.7 L98.5,1078.7 M98.5,1045 L98.5,1078.7" class="dd"/>
<path d="M110,1045 L98.5,1054 M98.5,1070 L110,1078.7" class="m"/>

<!-- table -->
<g>
<rect x="421.9" y="846.9" width="279.7" height="205.2" fill="none" stroke="#000" stroke-width="1.2"/>
<line x1="421.9" y1="865.5" x2="701.6" y2="865.5" stroke="#000" stroke-width="1.2"/>
<line x1="451" y1="846.9" x2="451" y2="1052.1" class="t"/><line x1="648.6" y1="846.9" x2="648.6" y2="1052.1" class="t"/>
<g class="t">
<line x1="421.9" y1="884.2" x2="701.6" y2="884.2"/><line x1="421.9" y1="902.8" x2="701.6" y2="902.8"/>
<line x1="421.9" y1="921.5" x2="701.6" y2="921.5"/><line x1="421.9" y1="940.2" x2="701.6" y2="940.2"/>
<line x1="421.9" y1="958.8" x2="701.6" y2="958.8"/><line x1="421.9" y1="977.5" x2="701.6" y2="977.5"/>
<line x1="421.9" y1="996.1" x2="701.6" y2="996.1"/><line x1="421.9" y1="1014.8" x2="701.6" y2="1014.8"/>
<line x1="421.9" y1="1033.4" x2="701.6" y2="1033.4"/>
</g>
<text x="436" y="860" font-size="8" text-anchor="middle" textLength="26" lengthAdjust="spacingAndGlyphs">№пом.</text>
<text x="549" y="861" font-size="11" text-anchor="middle">Найменування</text>
<text x="675" y="860" font-size="7.5" text-anchor="middle">Площа М2</text>
<g font-size="11">
<text x="436" y="879" text-anchor="middle">I</text><text x="455" y="879">Дільниця ТО та ПР</text><text x="675" y="879" text-anchor="middle">200</text>
<text x="436" y="898" text-anchor="middle">II</text><text x="455" y="898">Дільниця мийки автомобілів</text><text x="675" y="898" text-anchor="middle">54</text>
<text x="436" y="916" text-anchor="middle">III</text><text x="455" y="916">Побутові приміщення</text><text x="675" y="916" text-anchor="middle">15</text>
<text x="436" y="935" text-anchor="middle">IV</text><text x="455" y="935">Комплекти очистних сопруд</text><text x="675" y="935" text-anchor="middle">15</text>
<text x="436" y="954" text-anchor="middle">V</text><text x="455" y="954" textLength="166" lengthAdjust="spacingAndGlyphs">Склад зберігання хімічних реагентів</text><text x="675" y="954" text-anchor="middle">24</text>
<text x="436" y="972" text-anchor="middle">VI</text><text x="455" y="972">Кімната відпочинку</text><text x="675" y="972" text-anchor="middle">48</text>
<text x="436" y="991" text-anchor="middle">VII</text><text x="455" y="991">Адміністративне приміщення</text><text x="675" y="991" text-anchor="middle">18</text>
<text x="436" y="1009" text-anchor="middle">VIII</text><text x="455" y="1009">Склад запчастин</text><text x="675" y="1009" text-anchor="middle">12</text>
<text x="436" y="1028" text-anchor="middle">IX</text><text x="455" y="1028">Дільния ЩО</text><text x="675" y="1028" text-anchor="middle">60</text>
<text x="436" y="1047" text-anchor="middle">X</text><text x="455" y="1047">Кімната охорони</text><text x="675" y="1047" text-anchor="middle">10</text>
</g>
</g>

<!-- equipment list -->
<g class="l" lengthAdjust="spacingAndGlyphs">
<text x="779" y="865" textLength="104" lengthAdjust="spacingAndGlyphs">1- Мотортестер МЗ-2</text>
<text x="779" y="878" textLength="175" lengthAdjust="spacingAndGlyphs">2- Прилад для виміру люфта ИСЛ-401</text>
<text x="779" y="891.5" textLength="167" lengthAdjust="spacingAndGlyphs">3- Прилад для виміру світла фар ОП</text>
<text x="779" y="905" textLength="76" lengthAdjust="spacingAndGlyphs">4-Підіймач П-105</text>
<text x="779" y="918" textLength="77" lengthAdjust="spacingAndGlyphs">5-Підіймач П-102</text>
<text x="779" y="931" textLength="128" lengthAdjust="spacingAndGlyphs">6-Рейковий ручний прес ПР</text>
<text x="779" y="944.5" textLength="142" lengthAdjust="spacingAndGlyphs">7-Свердлильний верстат Р175</text>
<text x="779" y="958" textLength="134" lengthAdjust="spacingAndGlyphs">8-Шліфувальний верстат ОШ</text>
<text x="779" y="971" textLength="157" lengthAdjust="spacingAndGlyphs">9-Маслозбірник 49ДП.030 100.000</text>
<text x="779" y="984" textLength="185" lengthAdjust="spacingAndGlyphs">10-Стійка для зняття ДВЗ та КЗП СГ-1</text>
<text x="779" y="997.5" textLength="113" lengthAdjust="spacingAndGlyphs">11-Зварювальний апарат</text>
<text x="779" y="1011" textLength="174" lengthAdjust="spacingAndGlyphs">12-Ящик дя обт. матеріалів ОРГ-5139</text>
<text x="779" y="1024" textLength="158" lengthAdjust="spacingAndGlyphs">13-Верстак слюсарний 01.1-505015</text>
<text x="779" y="1037" textLength="101" lengthAdjust="spacingAndGlyphs">14-Зварювальний стіл</text>
<text x="779" y="1050.5" textLength="50" lengthAdjust="spacingAndGlyphs">15-Лещата</text>
<text x="779" y="1064" textLength="122" lengthAdjust="spacingAndGlyphs">16-Ящик дя піску ОРГ 1519</text>
<text x="779" y="1077" textLength="199" lengthAdjust="spacingAndGlyphs">17-Зварювальний трансформатор ТДМ-163</text>
<text x="995" y="865" textLength="175" lengthAdjust="spacingAndGlyphs">18- Балансувальний верстат ЛС 1-01</text>
<text x="995" y="878" textLength="169" lengthAdjust="spacingAndGlyphs">19- Стенд для монтажа і демонтажа</text>
<text x="998" y="891.5" textLength="58" lengthAdjust="spacingAndGlyphs">шин Ш5 1 6Н</text>
<text x="993" y="905" textLength="91" lengthAdjust="spacingAndGlyphs">20-Компресор КВ 7</text>
<text x="991" y="918" textLength="99" lengthAdjust="spacingAndGlyphs">21- Запобіжна клітка</text>
<text x="989" y="931" textLength="185" lengthAdjust="spacingAndGlyphs">22-Повітророздавальна колонка С41 1М</text>
<text x="990" y="944.5" textLength="164" lengthAdjust="spacingAndGlyphs">23-Електровулканізатор В 10 1-М1</text>
<text x="992" y="958" textLength="178" lengthAdjust="spacingAndGlyphs">24-Стіл для вулк. апаратів ОРГ- 1468</text>
<text x="990" y="971" textLength="113" lengthAdjust="spacingAndGlyphs">25-Ящик для запчастин</text>
<text x="992" y="984" textLength="53" lengthAdjust="spacingAndGlyphs">26-Стіллаж</text>
<text x="990" y="997.5" textLength="194" lengthAdjust="spacingAndGlyphs">27-Сталева емальована ванна ОРГ 181 15</text>
<text x="988" y="1011" textLength="190" lengthAdjust="spacingAndGlyphs">28-Шафа для одягу та особостих речей</text>
<text x="986" y="1024" textLength="110" lengthAdjust="spacingAndGlyphs">29-Пилосос МТ 561 Eco.</text>
<text x="986" y="1037" textLength="117" lengthAdjust="spacingAndGlyphs">30-Мийка Karcher HD650</text>
<text x="986" y="1050.5" textLength="189" lengthAdjust="spacingAndGlyphs">31-Очисна установка для мийки ФФУ-2.</text>
</g>

<!-- ===== TITLE BLOCK ===== -->
<g fill="none" stroke="#000">
<rect x="1213.4" y="994.9" width="343.9" height="102.4" stroke-width="1.3"/>
<g stroke-width="1.2">
<line x1="1226.7" y1="994.9" x2="1226.7" y2="1041.6"/><line x1="1244.9" y1="994.9" x2="1244.9" y2="1097.3"/>
<line x1="1287.8" y1="994.9" x2="1287.8" y2="1097.3"/><line x1="1315.8" y1="994.9" x2="1315.8" y2="1097.3"/>
<line x1="1334.5" y1="994.9" x2="1334.5" y2="1097.3"/>
<line x1="1213.4" y1="1032" x2="1334.5" y2="1032"/><line x1="1213.4" y1="1041.6" x2="1334.5" y2="1041.6"/>
<line x1="1334.5" y1="1023.5" x2="1557.3" y2="1023.5"/><line x1="1334.5" y1="1069.5" x2="1557.3" y2="1069.5"/>
<line x1="1464.7" y1="1023.5" x2="1464.7" y2="1097.3"/>
<line x1="1464.7" y1="1032" x2="1557.3" y2="1032"/><line x1="1464.7" y1="1061" x2="1557.3" y2="1061"/>
<line x1="1492.7" y1="1023.5" x2="1492.7" y2="1061"/><line x1="1524.2" y1="1023.5" x2="1524.2" y2="1061"/>
<line x1="1502.5" y1="1061" x2="1502.5" y2="1069.5"/>
</g>
<g stroke-width="0.5">
<line x1="1213.4" y1="1004.5" x2="1334.5" y2="1004.5"/><line x1="1213.4" y1="1013.7" x2="1334.5" y2="1013.7"/><line x1="1213.4" y1="1022.9" x2="1334.5" y2="1022.9"/>
<line x1="1213.4" y1="1051" x2="1334.5" y2="1051"/><line x1="1213.4" y1="1060.3" x2="1334.5" y2="1060.3"/><line x1="1213.4" y1="1069.5" x2="1334.5" y2="1069.5"/>
<line x1="1213.4" y1="1079" x2="1334.5" y2="1079"/><line x1="1213.4" y1="1088.2" x2="1334.5" y2="1088.2"/>
<line x1="1474" y1="1032" x2="1474" y2="1061"/><line x1="1483.3" y1="1032" x2="1483.3" y2="1061"/>
</g>
</g>
<g font-size="7.5">
<text x="1214" y="1040">Изм.</text><text x="1227.5" y="1040">Лист</text><text x="1251" y="1040">№ докум.</text><text x="1294" y="1040">Подп.</text><text x="1317" y="1040">Дата</text>
<text x="1214" y="1049.5">Разраб.</text><text x="1246" y="1049.5">Калганков</text>
<text x="1214" y="1058.5">Пров.</text><text x="1246" y="1058.5">Дирда</text>
<text x="1214" y="1067.5">Т.контр.</text>
<text x="1214" y="1086.5">Н.контр.</text><text x="1246" y="1086.5">Черній</text>
<text x="1214" y="1095.5">Утв.</text><text x="1246" y="1095.5">Дирда</text>
<text x="1471" y="1031">Лит.</text><text x="1498" y="1031">Масса</text><text x="1525" y="1031">Масштаб</text>
<text x="1466" y="1068">Лист</text><text x="1505" y="1068">Листов</text><text x="1546" y="1068">1</text>
</g>
<text x="1445" y="1015" font-size="17" text-anchor="middle" textLength="142" lengthAdjust="spacingAndGlyphs">49ДП.028 000. 000 ТП</text>
<text x="1399" y="1041" font-size="12" text-anchor="middle">Технологічне</text>
<text x="1399" y="1060" font-size="12" text-anchor="middle">планування СТО</text>
<text x="1541" y="1051" font-size="12" text-anchor="middle">1:50</text>
<text x="1510" y="1090" font-size="17" text-anchor="middle" textLength="46" lengthAdjust="spacingAndGlyphs">ДДАЕУ</text>
<text x="1354" y="1105" font-size="8">Копировал</text>
<text x="1486" y="1105" font-size="8">Формат    А1</text>
</svg>
</body></html>
